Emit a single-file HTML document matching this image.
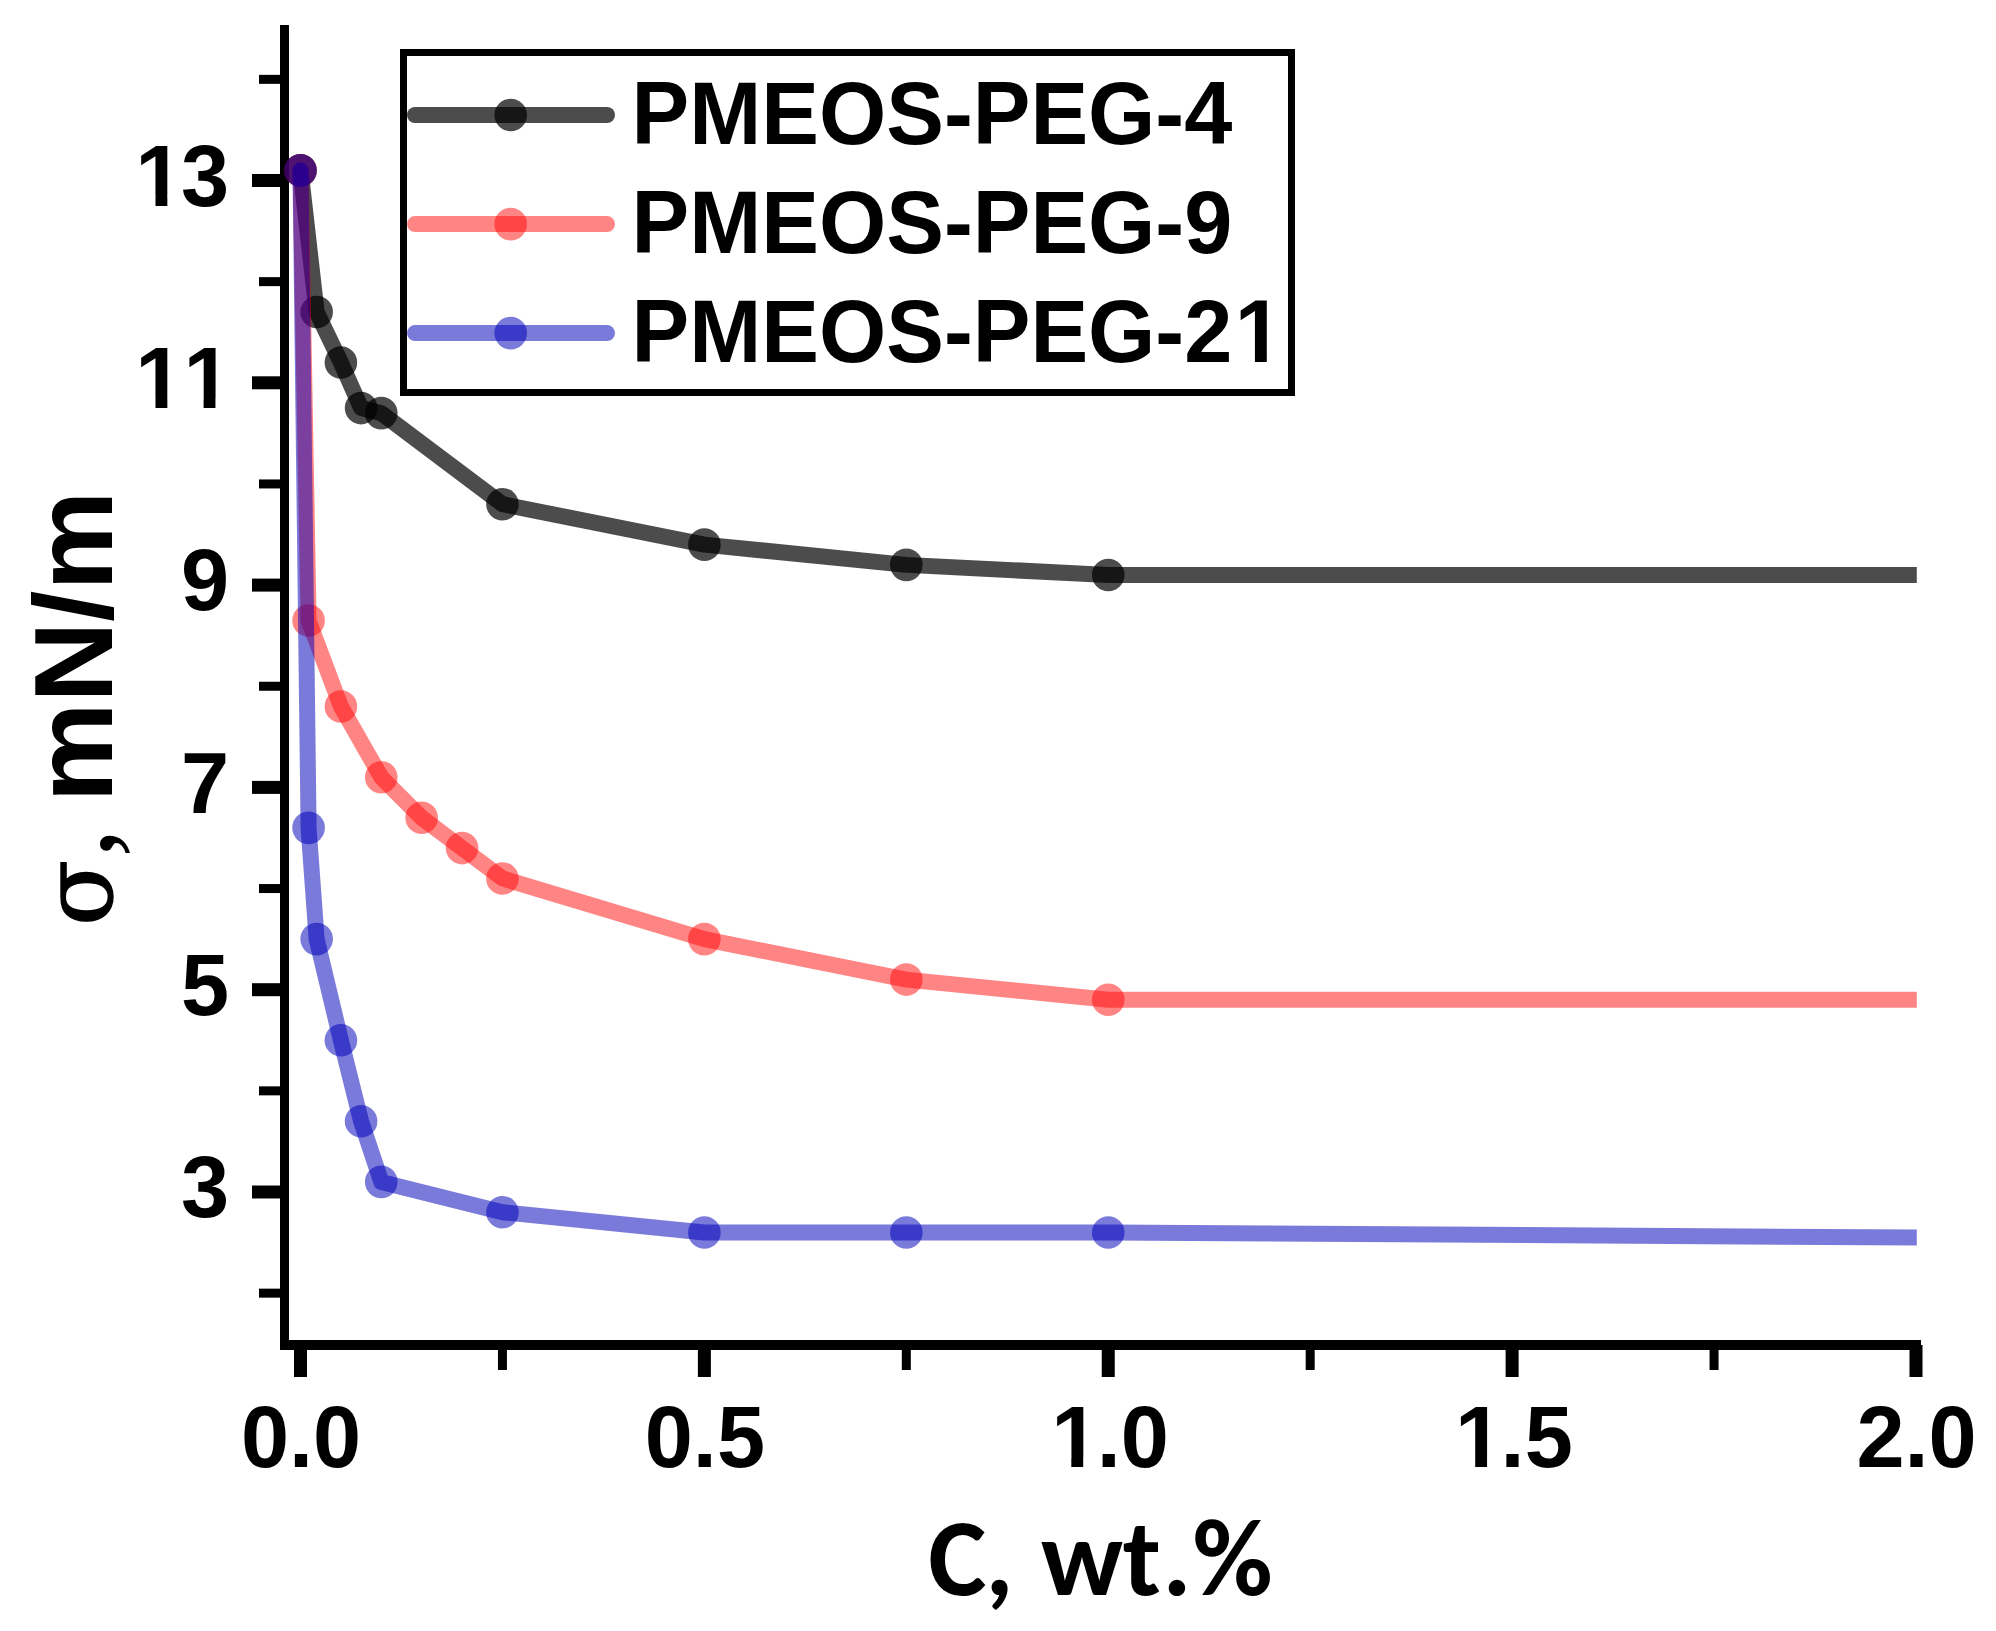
<!DOCTYPE html>
<html><head><meta charset="utf-8"><style>
html,body{margin:0;padding:0;background:#fff;overflow:hidden;}
svg{display:block;}
text{font-kerning:none;}
.a{font-family:"Liberation Sans",Arial,sans-serif;font-weight:bold;fill:#000;}
.xt{font-family:Carlito,Calibri,"Liberation Sans",sans-serif;font-weight:bold;fill:#000;}
.sg1{font-family:"DejaVu Serif",serif;font-size:97px;fill:#000;stroke:#000;stroke-width:1.4px;}
.sg2{font-family:"Liberation Serif","Times New Roman",serif;font-size:116px;fill:#000;}
</style></head><body>
<svg width="1996" height="1631" viewBox="0 0 1996 1631">
<rect width="1996" height="1631" fill="#fff"/>
<defs><clipPath id="pc"><rect x="0" y="0" width="1916.8" height="1631"/></clipPath></defs>
<g fill="#000">
<rect x="280" y="25" width="9" height="1325"/>
<rect x="280" y="1340" width="1641" height="10"/>
<rect x="252" y="1185.5" width="30" height="13"/>
<rect x="252" y="983.2" width="30" height="13"/>
<rect x="252" y="780.9" width="30" height="13"/>
<rect x="252" y="578.6" width="30" height="13"/>
<rect x="252" y="376.3" width="30" height="13"/>
<rect x="252" y="174" width="30" height="13"/>
<rect x="259" y="1288.65" width="23" height="9"/>
<rect x="259" y="1086.35" width="23" height="9"/>
<rect x="259" y="884.05" width="23" height="9"/>
<rect x="259" y="681.75" width="23" height="9"/>
<rect x="259" y="479.45" width="23" height="9"/>
<rect x="259" y="277.15" width="23" height="9"/>
<rect x="259" y="74.85" width="23" height="9"/>
<rect x="294" y="1345" width="13" height="32"/>
<rect x="697.88" y="1345" width="13" height="32"/>
<rect x="1101.75" y="1345" width="13" height="32"/>
<rect x="1505.62" y="1345" width="13" height="32"/>
<rect x="1909.5" y="1345" width="13" height="32"/>
<rect x="497.94" y="1345" width="9" height="25"/>
<rect x="901.81" y="1345" width="9" height="25"/>
<rect x="1305.69" y="1345" width="9" height="25"/>
<rect x="1709.56" y="1345" width="9" height="25"/>
</g>
<g clip-path="url(#pc)">
<path d="M300.5 170.39 L316.65 312 L340.89 362.57 L361.08 408.09 L381.27 413.15 L502.44 504.18 L704.38 544.64 L906.31 564.87 L1108.25 574.99 L1916 574.99" fill="none" stroke="#000000" stroke-opacity="0.7" stroke-width="16" stroke-linejoin="round" stroke-linecap="round"/>
<circle cx="300.5" cy="170.39" r="16.3" fill="#000000" fill-opacity="0.7"/>
<circle cx="316.65" cy="312" r="16.3" fill="#000000" fill-opacity="0.7"/>
<circle cx="340.89" cy="362.57" r="16.3" fill="#000000" fill-opacity="0.7"/>
<circle cx="361.08" cy="408.09" r="16.3" fill="#000000" fill-opacity="0.7"/>
<circle cx="381.27" cy="413.15" r="16.3" fill="#000000" fill-opacity="0.7"/>
<circle cx="502.44" cy="504.18" r="16.3" fill="#000000" fill-opacity="0.7"/>
<circle cx="704.38" cy="544.64" r="16.3" fill="#000000" fill-opacity="0.7"/>
<circle cx="906.31" cy="564.87" r="16.3" fill="#000000" fill-opacity="0.7"/>
<circle cx="1108.25" cy="574.99" r="16.3" fill="#000000" fill-opacity="0.7"/>
<path d="M300.5 170.39 L308.58 620.5 L340.89 706.48 L381.27 777.29 L421.66 817.75 L462.05 848.09 L502.44 878.44 L704.38 939.12 L906.31 979.59 L1108.25 999.82 L1916 999.82" fill="none" stroke="#ff0000" stroke-opacity="0.48" stroke-width="16" stroke-linejoin="round" stroke-linecap="round"/>
<circle cx="300.5" cy="170.39" r="16.3" fill="#ff0000" fill-opacity="0.48"/>
<circle cx="308.58" cy="620.5" r="16.3" fill="#ff0000" fill-opacity="0.48"/>
<circle cx="340.89" cy="706.48" r="16.3" fill="#ff0000" fill-opacity="0.48"/>
<circle cx="381.27" cy="777.29" r="16.3" fill="#ff0000" fill-opacity="0.48"/>
<circle cx="421.66" cy="817.75" r="16.3" fill="#ff0000" fill-opacity="0.48"/>
<circle cx="462.05" cy="848.09" r="16.3" fill="#ff0000" fill-opacity="0.48"/>
<circle cx="502.44" cy="878.44" r="16.3" fill="#ff0000" fill-opacity="0.48"/>
<circle cx="704.38" cy="939.12" r="16.3" fill="#ff0000" fill-opacity="0.48"/>
<circle cx="906.31" cy="979.59" r="16.3" fill="#ff0000" fill-opacity="0.48"/>
<circle cx="1108.25" cy="999.82" r="16.3" fill="#ff0000" fill-opacity="0.48"/>
<path d="M300.5 170.39 L308.58 827.86 L316.65 939.12 L340.89 1040.28 L361.08 1121.2 L381.27 1181.89 L502.44 1212.23 L704.38 1232.46 L906.31 1232.46 L1108.25 1232.46 L1916 1237.52" fill="none" stroke="#0000b9" stroke-opacity="0.52" stroke-width="16" stroke-linejoin="round" stroke-linecap="round"/>
<circle cx="300.5" cy="170.39" r="16.3" fill="#0000b9" fill-opacity="0.52"/>
<circle cx="308.58" cy="827.86" r="16.3" fill="#0000b9" fill-opacity="0.52"/>
<circle cx="316.65" cy="939.12" r="16.3" fill="#0000b9" fill-opacity="0.52"/>
<circle cx="340.89" cy="1040.28" r="16.3" fill="#0000b9" fill-opacity="0.52"/>
<circle cx="361.08" cy="1121.2" r="16.3" fill="#0000b9" fill-opacity="0.52"/>
<circle cx="381.27" cy="1181.89" r="16.3" fill="#0000b9" fill-opacity="0.52"/>
<circle cx="502.44" cy="1212.23" r="16.3" fill="#0000b9" fill-opacity="0.52"/>
<circle cx="704.38" cy="1232.46" r="16.3" fill="#0000b9" fill-opacity="0.52"/>
<circle cx="906.31" cy="1232.46" r="16.3" fill="#0000b9" fill-opacity="0.52"/>
<circle cx="1108.25" cy="1232.46" r="16.3" fill="#0000b9" fill-opacity="0.52"/>
</g>
<g transform="translate(180.89 1217.2)">
<text class="a" x="0" y="0" style="font-size:86.5px">3</text>
</g>
<g transform="translate(180.89 1014.9)">
<text class="a" x="0" y="0" style="font-size:86.5px">5</text>
</g>
<g transform="translate(180.89 812.6)">
<text class="a" x="0" y="0" style="font-size:86.5px">7</text>
</g>
<g transform="translate(180.89 610.3)">
<text class="a" x="0" y="0" style="font-size:86.5px">9</text>
</g>
<g transform="translate(132.79 408)">
<text class="a" x="2.5 50.61" y="0" style="font-size:86.5px">11</text>
<rect x="6.95" y="-9.43" width="15.74" height="10.83" fill="#fff"/>
<rect x="34.56" y="-9.43" width="14.64" height="10.83" fill="#fff"/>
<rect x="55.06" y="-9.43" width="15.74" height="10.83" fill="#fff"/>
<rect x="82.66" y="-9.43" width="14.64" height="10.83" fill="#fff"/>
</g>
<g transform="translate(132.79 205.7)">
<text class="a" x="2.5 48.11" y="0" style="font-size:86.5px">13</text>
<rect x="6.95" y="-9.43" width="15.74" height="10.83" fill="#fff"/>
<rect x="34.56" y="-9.43" width="14.64" height="10.83" fill="#fff"/>
</g>
<g transform="translate(240.88 1467)">
<text class="a" x="0 48.11 72.14" y="0" style="font-size:86.5px">0.0</text>
</g>
<g transform="translate(644.75 1467)">
<text class="a" x="0 48.11 72.14" y="0" style="font-size:86.5px">0.5</text>
</g>
<g transform="translate(1048.63 1467)">
<text class="a" x="2.5 48.11 72.14" y="0" style="font-size:86.5px">1.0</text>
<rect x="6.95" y="-9.43" width="15.74" height="10.83" fill="#fff"/>
<rect x="34.56" y="-9.43" width="14.64" height="10.83" fill="#fff"/>
</g>
<g transform="translate(1452.5 1467)">
<text class="a" x="2.5 48.11 72.14" y="0" style="font-size:86.5px">1.5</text>
<rect x="6.95" y="-9.43" width="15.74" height="10.83" fill="#fff"/>
<rect x="34.56" y="-9.43" width="14.64" height="10.83" fill="#fff"/>
</g>
<g transform="translate(1856.38 1467)">
<text class="a" x="0 48.11 72.14" y="0" style="font-size:86.5px">2.0</text>
</g>
<rect x="403.5" y="52.5" width="888" height="340" fill="#fff" stroke="#000" stroke-width="7"/>
<path d="M415 115.0 L607 115.0" stroke="#000000" stroke-opacity="0.7" stroke-width="16" stroke-linecap="round"/>
<circle cx="510.7" cy="115.0" r="16.3" fill="#000000" fill-opacity="0.7"/>
<path d="M415 224.1 L607 224.1" stroke="#ff0000" stroke-opacity="0.48" stroke-width="16" stroke-linecap="round"/>
<circle cx="510.7" cy="224.1" r="16.3" fill="#ff0000" fill-opacity="0.48"/>
<path d="M415 333.1 L607 333.1" stroke="#0000b9" stroke-opacity="0.52" stroke-width="16" stroke-linecap="round"/>
<circle cx="510.7" cy="333.1" r="16.3" fill="#0000b9" fill-opacity="0.52"/>
<g transform="translate(631.6 144.1) scale(0.994 1.02)">
<text class="a" x="0 58.03 130.5 188.53 256.2 314.23 343.2 401.23 459.26 526.93 555.9" y="0" style="font-size:87px">PMEOS-PEG-4</text>
</g>
<g transform="translate(631.6 252.9) scale(0.994 1.02)">
<text class="a" x="0 58.03 130.5 188.53 256.2 314.23 343.2 401.23 459.26 526.93 555.9" y="0" style="font-size:87px">PMEOS-PEG-9</text>
</g>
<g transform="translate(631.6 362.3) scale(0.994 1.02)">
<text class="a" x="0 58.03 130.5 188.53 256.2 314.23 343.2 401.23 459.26 526.93 555.9 606.78" y="0" style="font-size:87px">PMEOS-PEG-21</text>
<rect x="611.26" y="-9.48" width="15.83" height="10.88" fill="#fff"/>
<rect x="639.03" y="-9.48" width="14.72" height="10.88" fill="#fff"/>
</g>
<text id="xt" class="xt" x="928.28 985.36 1010 1041.07 1122.68 1162.36 1192.55" y="1595.4" style="font-size:110px">C, wt.%</text>
<text class="sg1" transform="translate(111.7 926.1) rotate(-90)">σ</text>
<text class="sg2" transform="translate(112 857.4) rotate(-90)">,</text>
<text class="a" transform="translate(112 802.2) rotate(-90)" style="font-size:112px">mN/m</text>
</svg>
<script>(function(){try{var c=document.createElement('canvas').getContext('2d');c.font='bold 100px monospace';var a=c.measureText('C, wt.%').width;c.font='bold 100px Carlito, monospace';var b=c.measureText('C, wt.%').width;if(Math.abs(a-b)<0.01){var e=document.getElementById('xt');e.setAttribute('x','1075.63 1147.94 1182.87 1217.8 1309.95 1354.27 1387.15');e.setAttribute('y','1595.2');e.setAttribute('transform','scale(0.86 1)');e.style.fontFamily='\'Liberation Sans\',Arial,sans-serif';e.style.fontSize='104px';}}catch(err){}})();</script>
</body></html>
